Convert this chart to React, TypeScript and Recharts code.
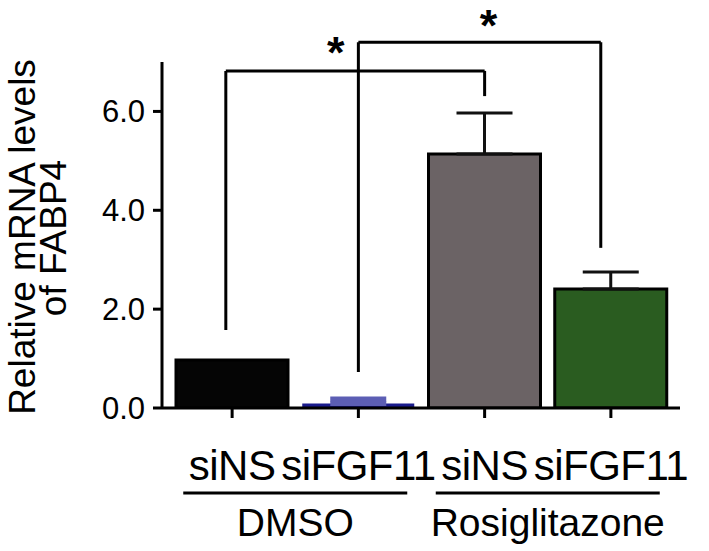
import { BarChart, Bar, XAxis, YAxis, Cell, ErrorBar, ReferenceLine, ReferenceDot } from 'recharts';

const siRNA = ['siNS', 'siFGF11', 'siNS', 'siFGF11'];
const treatments = ['DMSO', 'DMSO', 'Rosiglitazone', 'Rosiglitazone'];
const fabp4Means = [0.97, 0.09, 5.14, 2.41];
const fabp4Errors = [0, 0, 0.83, 0.34];
const fabp4ErrorsBlue = [0, 0.09, 0, 0];
const barColors = ['#050505', '#1a1b8c', '#6b6365', '#2a5c20'];
const yTicks = [0, 2, 4, 6];

// significance brackets in bar-index units: [xLeft, yLeftEnd, yTop, xRight, yRightEnd]
const brackets = [
  [-0.05, 1.58, 6.82, 2.0, 6.31],
  [1.0, 0.73, 7.4, 2.92, 3.24],
];
// asterisks: [x, y]
const stars = [
  [0.82, 7.3],
  [2.03, 7.85],
];

const FONT = '"Liberation Sans", Arial, Helvetica, sans-serif';

const data = siRNA.map((s, i) => ({
  key: 'c' + i,
  idx: i,
  label: s,
  group: treatments[i],
  mean: fabp4Means[i],
  err: fabp4Errors[i] ? [0, fabp4Errors[i]] : null,
  errBlue: fabp4ErrorsBlue[i] ? [0, fabp4ErrorsBlue[i]] : null,
}));

function SiTick(props: any) {
  const { x, y, payload } = props;
  const row = data.find((d) => d.key === payload.value);
  return (
    <text x={x} y={y + 62} textAnchor="middle" fontSize={42} letterSpacing={-0.5} fontFamily={FONT} fill="#000">
      {row ? row.label : ''}
    </text>
  );
}

function GroupTick(props: any) {
  const { x, y, payload } = props;
  return (
    <g>
      <line x1={x - 112} x2={x + 112} y1={y + 15} y2={y + 15} stroke="#000" strokeWidth={3} />
      <text x={x} y={y + 58} textAnchor="middle" fontSize={39} fontFamily={FONT} fill="#000">
        {payload.value}
      </text>
    </g>
  );
}

function YTitle() {
  return (
    <g fontFamily={FONT} fontSize={37} fill="#000">
      <text transform="rotate(-90)" x={-237} y={35} textAnchor="middle">
        Relative mRNA levels
      </text>
      <text transform="rotate(-90)" x={-238} y={66} textAnchor="middle">
        of FABP4
      </text>
    </g>
  );
}

function Star(props: any) {
  const { cx, cy } = props;
  return (
    <text x={cx} y={cy + 21} textAnchor="middle" fontSize={45} fontWeight="bold" fontFamily={FONT} fill="#000">
      *
    </text>
  );
}

export default function App() {
  return (
    <div style={{ position: 'absolute', left: 0, top: 0, background: '#fff' }}>
      <BarChart
        width={709}
        height={551}
        data={data}
        margin={{ top: 62, right: 29, bottom: 0, left: 0 }}
        barSize={112}
      >
        <XAxis
          xAxisId="aMain"
          dataKey="key"
          height={70}
          padding={{ left: 7, right: 6 }}
          axisLine={{ stroke: '#000', strokeWidth: 3 }}
          tickLine={{ stroke: '#000', strokeWidth: 3 }}
          tickSize={10}
          tickMargin={0}
          tick={<SiTick />}
        />
        <XAxis
          xAxisId="bGroup"
          dataKey="group"
          allowDuplicatedCategory={false}
          height={73}
          padding={{ left: 7, right: 6 }}
          axisLine={false}
          tickLine={false}
          tickSize={0}
          tickMargin={0}
          tick={<GroupTick />}
        />
        <XAxis
          xAxisId="num"
          dataKey="idx"
          type="number"
          scale="linear"
          domain={[-0.5, 3.5]}
          allowDataOverflow
          padding={{ left: 7, right: 6 }}
          hide
        />
        <YAxis
          width={162}
          domain={[0, 7]}
          ticks={yTicks}
          allowDataOverflow
          tickFormatter={(v: number) => v.toFixed(1)}
          axisLine={{ stroke: '#000', strokeWidth: 3 }}
          tickLine={{ stroke: '#000', strokeWidth: 3 }}
          tickSize={9}
          tickMargin={8}
          tick={{ fontSize: 31, fontFamily: FONT, fill: '#000' }}
          label={<YTitle />}
        />
        <Bar xAxisId="aMain" dataKey="mean" isAnimationActive={false}>
          {data.map((d, i) => (
            <Cell
              key={d.key}
              fill={barColors[i]}
              stroke={i === 1 ? barColors[i] : '#000'}
              strokeWidth={i === 1 ? 0 : 3}
            />
          ))}
          <ErrorBar dataKey="err" direction="y" width={28} strokeWidth={3} stroke="#111" isAnimationActive={false} />
          <ErrorBar dataKey="errBlue" direction="y" width={28} strokeWidth={5} stroke="#5c5eb4" isAnimationActive={false} />
        </Bar>
        {brackets.map((b, i) => [
          <ReferenceLine
            key={'l' + i}
            xAxisId="num"
            ifOverflow="visible"
            segment={[{ x: b[0], y: b[1] }, { x: b[0], y: b[2] }]}
            stroke="#000"
            strokeWidth={3}
          />,
          <ReferenceLine
            key={'t' + i}
            xAxisId="num"
            ifOverflow="visible"
            segment={[{ x: b[0], y: b[2] }, { x: b[3], y: b[2] }]}
            stroke="#000"
            strokeWidth={3}
          />,
          <ReferenceLine
            key={'r' + i}
            xAxisId="num"
            ifOverflow="visible"
            segment={[{ x: b[3], y: b[2] }, { x: b[3], y: b[4] }]}
            stroke="#000"
            strokeWidth={3}
          />,
        ])}
        {stars.map((s, i) => (
          <ReferenceDot key={'s' + i} xAxisId="num" x={s[0]} y={s[1]} r={0} ifOverflow="visible" shape={<Star />} />
        ))}
      </BarChart>
    </div>
  );
}
